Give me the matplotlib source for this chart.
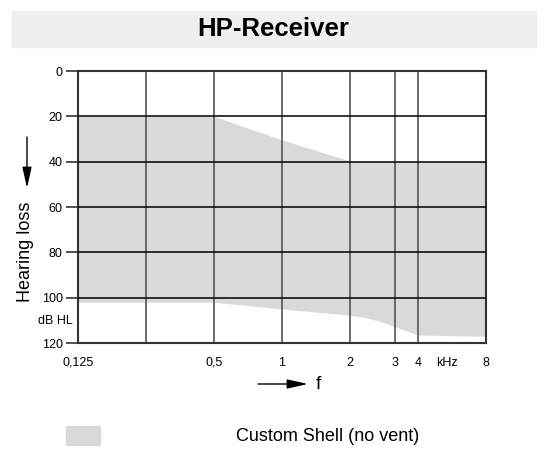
import matplotlib
matplotlib.use("Agg")
import matplotlib.pyplot as plt
from matplotlib.patches import Rectangle
import numpy as np

plt.rcParams['font.family'] = ['Liberation Sans', 'DejaVu Sans']

# grid frequencies (kHz) and where the chart puts them (octave steps)
grid_freqs = [0.125, 0.25, 0.5, 1, 2, 3, 4, 8]
grid_pos = [0, 1, 2, 3, 4, 4.66, 5, 6]

tick_freqs = [0.125, 0.5, 1, 2, 3, 4, 8]
tick_labels = ['0,125', '0,5', '1', '2', '3', '4', '8']
db_ticks = [0, 20, 40, 60, 80, 100, 120]

# fitting range of the receiver (dB HL)
fit_freqs = [0.125, 0.25, 0.5, 1, 2, 2.3, 2.6, 3, 4, 8]
fit_upper = [20, 20, 20, 30.4, 39.7, 40, 40, 40, 40, 40]
fit_lower = [102, 102, 102, 105, 107.7, 108.8, 110.3, 112.8, 116.5, 117]

log_f = np.log2(grid_freqs)


def fwd(f):
    f = np.clip(np.asarray(f, dtype=float), 1e-6, None)
    return np.interp(np.log2(f), log_f, grid_pos)


def inv(p):
    return 2 ** np.interp(p, grid_pos, log_f)


fig = plt.figure(figsize=(5.55, 4.69), dpi=100)
ax = fig.add_axes([78 / 555, 1 - 343 / 469, 408 / 555, 272 / 469])

ax.set_xscale('function', functions=(fwd, inv))
ax.set_xlim(0.125, 8)
ax.set_ylim(120, 0)

ax.fill_between(fit_freqs, fit_upper, fit_lower, color='#d9d9d9', lw=0, zorder=1)

for f in grid_freqs[1:-1]:
    ax.axvline(f, color='#555555', lw=1.2, zorder=2)
for d in db_ticks[1:-1]:
    ax.axhline(d, color='black', lw=1.1, zorder=3)

for s in ax.spines.values():
    s.set_color('#333333')
    s.set_linewidth(1.5)

ax.set_yticks(db_ticks)
ax.tick_params(axis='y', length=9, width=1.2, color='#333333', labelsize=9, pad=2)
ax.set_xticks(tick_freqs)
ax.set_xticklabels(tick_labels)
ax.xaxis.set_minor_locator(matplotlib.ticker.NullLocator())
ax.tick_params(axis='x', length=0, labelsize=9, pad=10)
ax.text(0.904, -0.0846, 'kHz', transform=ax.transAxes, ha='center', va='baseline', fontsize=9)

# title bar
fig.patches.append(Rectangle((12 / 555, 1 - 47 / 469), 524 / 555, 36 / 469,
                             transform=fig.transFigure, color='#efefef', zorder=0))
fig.text(273 / 555, 1 - 28.5 / 469, 'HP-Receiver', ha='center', va='center',
         fontsize=18.5, fontweight='bold')

# y axis label and arrow
fig.text(26 / 555, 1 - 252 / 469, 'Hearing loss', rotation=90, ha='center', va='center', fontsize=13)
ax.annotate('', xy=(27, 469 - 188), xytext=(27, 469 - 137), xycoords='figure pixels',
            arrowprops=dict(arrowstyle='-|>,head_length=0.9,head_width=0.2', color='black', lw=1,
                            mutation_scale=14, shrinkA=0, shrinkB=0))
fig.text(55 / 555, 1 - 321 / 469, 'dB HL', ha='center', va='center', fontsize=9)

# x axis arrow and label
ax.annotate('', xy=(308, 469 - 384), xytext=(258, 469 - 384), xycoords='figure pixels',
            arrowprops=dict(arrowstyle='-|>,head_length=0.9,head_width=0.2', color='black', lw=1,
                            mutation_scale=14, shrinkA=0, shrinkB=0))
fig.text(318 / 555, 1 - 384 / 469, 'f', ha='center', va='center', fontsize=14)

# legend
fig.patches.append(Rectangle((66 / 555, 1 - 445 / 469), 34 / 555, 19 / 469,
                             transform=fig.transFigure, color='#d9d9d9'))
fig.text(236 / 555, 1 - 436 / 469, 'Custom Shell (no vent)', ha='left', va='center', fontsize=13)

fig.savefig('out.png', dpi=100)
